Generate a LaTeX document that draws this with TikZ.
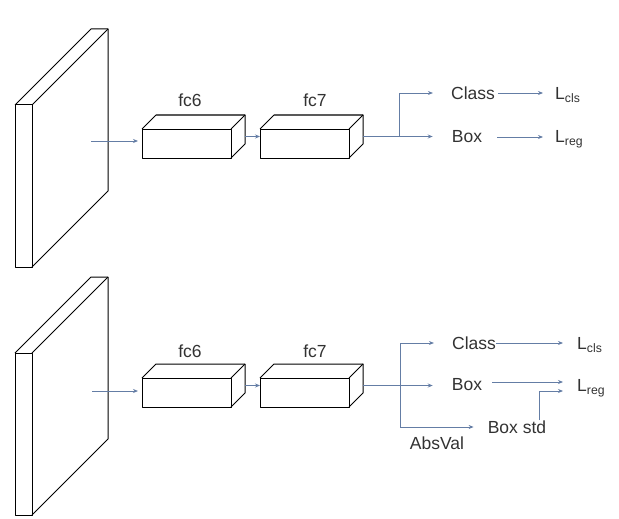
\documentclass[tikz,border=0pt]{standalone}
\usepackage{fontspec}
\setmainfont{Liberation Sans}
\usetikzlibrary{calc,arrows.meta}
\definecolor{arrc}{RGB}{100,125,165}
\definecolor{txtc}{RGB}{50,50,50}
\newcommand\drawcube[2]{%
  \draw[edge] (#1.north west) -- ++(#2,-#2) -- ($(#1.north east)+(#2,-#2)$) -- ($(#1.south east)+(#2,-#2)$) -- (#1.south east);
  \draw[edge] (#1.north east) -- ++(#2,-#2);}
\begin{document}
\begin{tikzpicture}[x=1pt,y=-1pt,
  edge/.style={draw=black,line width=1pt,line join=round},
  face/.style={edge,inner sep=0pt,outer sep=0pt},
  plate/.style={face,minimum width=17pt,minimum height=162pt},
  fcbox/.style={face,minimum width=89pt,minimum height=29pt},
  arr/.style={draw=arrc,line width=0.9pt,-{Stealth[length=5pt,width=4pt]}},
  lbl/.style={font=\fontsize{17.5}{20}\selectfont,text=txtc,inner sep=0pt}]
\useasboundingbox (0,0) rectangle (619,519);

% ---------- top panel ----------
\node[plate] (plateA) at (23.5,186) {};
\drawcube{plateA}{76}
\node[fcbox] (fc6A) at (186.5,143.5) {};
\drawcube{fc6A}{14}
\node[fcbox] (fc7A) at (304.5,143.5) {};
\drawcube{fc7A}{14}
\node[lbl] (t6A) at (190,100) {fc6};
\node[lbl] (t7A) at (315,100) {fc7};
\node[lbl] (clsA) at (473,93) {Class};
\node[lbl] (boxA) at (467,137) {Box};
\node[lbl,anchor=west] (lclsA) at (555,95) {L\textsubscript{cls}};
\node[lbl,anchor=west] (lregA) at (555,139) {L\textsubscript{reg}};

\coordinate (inA) at (91,141);
\draw[arr,shorten >=4pt] (inA) -- (inA -| fc6A.west);
\draw[arr] ($(fc6A.east)+(14,-7)$) -- ($(fc7A.west)+(0,-7)$);
\coordinate (outA) at ($(fc7A.east)+(14,-7)$);
\coordinate (brA) at ($(outA)+(36,0)$);
\draw[arr,shorten >=19pt] (outA) -- (outA -| boxA.west);
\draw[arr,shorten >=18pt] (brA) |- (clsA.west);
\draw[arr,shorten <=3pt,shorten >=12pt] (clsA.east) -- (clsA.east -| lclsA.west);
\draw[arr,shorten <=15pt,shorten >=12pt] (boxA.east) -- (boxA.east -| lregA.west);

% ---------- bottom panel ----------
\node[plate] (plateB) at (23.5,434) {};
\drawcube{plateB}{76}
\node[fcbox] (fc6B) at (186.5,392.5) {};
\drawcube{fc6B}{14}
\node[fcbox] (fc7B) at (304.5,392.5) {};
\drawcube{fc7B}{14}
\node[lbl] (t6B) at (190,351) {fc6};
\node[lbl] (t7B) at (315,351) {fc7};
\node[lbl] (clsB) at (474,343) {Class};
\node[lbl] (boxB) at (467,385) {Box};
\node[lbl] (stdB) at (517,427) {Box std};
\node[lbl] (absB) at (437,443) {AbsVal};
\node[lbl,anchor=west] (lclsB) at (577,345) {L\textsubscript{cls}};
\node[lbl,anchor=west] (lregB) at (577,388) {L\textsubscript{reg}};

\coordinate (inB) at (92,391);
\draw[arr,shorten >=4pt] (inB) -- (inB -| fc6B.west);
\draw[arr] ($(fc6B.east)+(14,-7)$) -- ($(fc7B.west)+(0,-7)$);
\coordinate (outB) at ($(fc7B.east)+(14,-7)$);
\coordinate (brB) at ($(outB)+(37,0)$);
\draw[arr,shorten >=19pt] (outB) -- (outB -| boxB.west);
\draw[arr,shorten >=18pt] (brB) |- (clsB.west);
\draw[arr,shorten >=14pt] (brB) |- (stdB.west);
\draw[arr,shorten >=14pt] (clsB.east) -- (clsB.east -| lclsB.west);
\draw[arr] ($(boxB.east)+(10,-3)$) -- ($(lregB.west)+(-14,-6)$);
\draw[arr] ($(stdB.north)+(22,0)$) |- ($(lregB.west)+(-14,3)$);
\end{tikzpicture}
\end{document}
